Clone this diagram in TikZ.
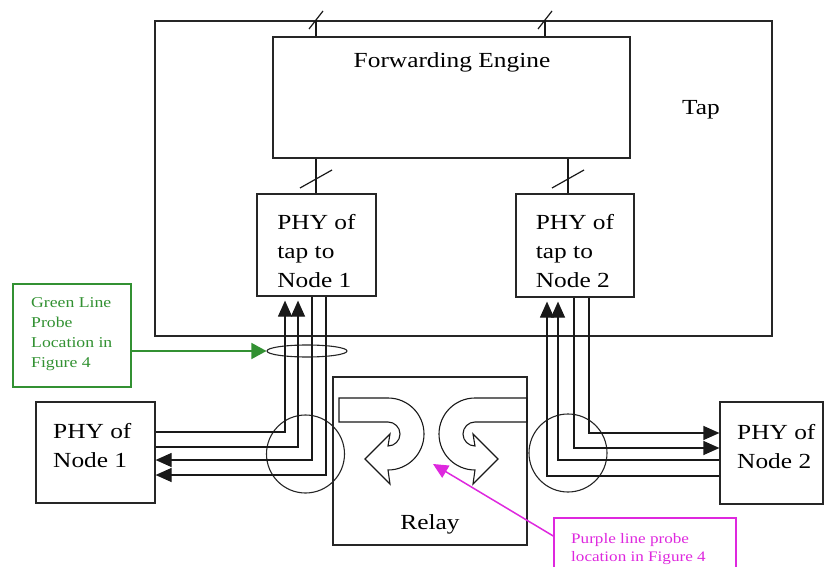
\documentclass[tikz,border=0pt]{standalone}
\usepackage{fontspec}
\setmainfont[FakeStretch=1.18]{Liberation Serif}
\usetikzlibrary{arrows.meta,shapes.geometric,positioning}
\definecolor{probegreen}{RGB}{50,145,50}
\definecolor{probepink}{RGB}{222,40,222}

\begin{document}
\begin{tikzpicture}[x=1pt, y=-1pt, >={Triangle[length=16pt,width=14pt]},
  every node/.style={font=\fontsize{21.5}{29}\selectfont},
  box/.style={draw=black!85, line width=1.2pt, inner sep=0pt},
  txt/.style={align=left, inner sep=0pt},
  wire/.style={draw=black!90, line width=1.2pt},
  ring/.style={draw=black!85, line width=1.1pt, inner sep=0pt},
  greenbox/.style={draw=probegreen, line width=1.5pt, inner sep=0pt},
  greentxt/.style={txt, text=probegreen, font=\fontsize{15}{20}\selectfont},
  pinkbox/.style={draw=probepink, line width=1.5pt, inner sep=0pt},
  pinktxt/.style={txt, text=probepink, font=\fontsize{14.5}{18}\selectfont}]
  \useasboundingbox (0,0) rectangle (825,567);

  % tap and its parts
  \node[box, minimum width=617pt, minimum height=315pt] (tap) at (463.5,178.5) {};
  \node (taplbl) at (701,110) {Tap};
  \node[box, minimum width=357pt, minimum height=121pt] (fwd) at (451.5,97.5) {};
  \node (fwdlbl) at (452,62) {Forwarding Engine};
  \node[box, minimum width=119pt, minimum height=102pt] (phyA) at (316.5,245) {};
  \node[txt] (phyAlbl) at (316.5,251) {PHY of\\tap to\\Node 1};
  \node[box, minimum width=118pt, minimum height=103pt] (phyB) at (575,245.5) {};
  \node[txt] (phyBlbl) at (575,251) {PHY of\\tap to\\Node 2};

  % end nodes and relay
  \node[box, minimum width=119pt, minimum height=101pt] (node1) at (95.5,452.5) {};
  \node[txt, anchor=west] (node1lbl) at (53,446) {PHY of\\Node 1};
  \node[box, minimum width=103pt, minimum height=102pt] (node2) at (771.5,453) {};
  \node[txt, anchor=west] (node2lbl) at (737,447) {PHY of\\Node 2};
  \node[box, minimum width=194pt, minimum height=168pt] (relay) at (430,461) {};
  \node (relaylbl) at (430,524) {Relay};

  \node[ring, circle, minimum size=78pt] (joinA) at (305.5,454) {};
  \node[ring, circle, minimum size=78pt] (joinB) at (568,453) {};
  \node[ring, ellipse, minimum width=80pt, minimum height=12pt] (probeA) at (307,351) {};

  % links with slash marks
  \foreach \x in {316,545} {
    \draw[wire] (fwd.north -| \x,0) -- (tap.north -| \x,0);
    \draw[wire] (\x-7,29) -- (\x+7,11);
  }
  \foreach \x/\b in {316/phyA,568/phyB} {
    \draw[wire] (fwd.south -| \x,0) -- (\b.north -| \x,0);
    \draw[wire] (\x-16,188) -- (\x+16,170);
  }

  % node 1 side
  \draw[wire, ->, shorten >=4pt] (node1.east |- 0,432) -| (phyA.south -| 285,0);
  \draw[wire, ->, shorten >=4pt] (node1.east |- 0,447) -| (phyA.south -| 298,0);
  \draw[wire, ->] (phyA.south -| 312,0) |- (node1.east |- 0,460);
  \draw[wire, ->] (phyA.south -| 326,0) |- (node1.east |- 0,475);

  % node 2 side
  \draw[wire, ->] (phyB.south -| 589,0) |- (node2.west |- 0,433);
  \draw[wire, ->] (phyB.south -| 574,0) |- (node2.west |- 0,448);
  \draw[wire, ->, shorten >=4pt] (node2.west |- 0,460) -| (phyB.south -| 558,0);
  \draw[wire, ->, shorten >=4pt] (node2.west |- 0,476) -| (phyB.south -| 547,0);

  % u-turn arrows in the relay
  \draw[wire, line width=1.1pt] (339,398) -- (388,398) arc[start angle=90, end angle=-90, radius=36pt]
    -- (390,484) -- (365,459) -- (390,434) -- (388,446) arc[start angle=-90, end angle=90, radius=12pt]
    -- (339,422) -- cycle;
  \draw[wire, line width=1.1pt] (527,398) -- (475,398) arc[start angle=90, end angle=270, radius=36pt]
    -- (473,484) -- (498,459) -- (473,434) -- (475,446) arc[start angle=270, end angle=90, radius=12pt]
    -- (527,422) -- cycle;

  % probe notes
  \node[greenbox, minimum width=118pt, minimum height=103pt] (greennote) at (72,335.5) {};
  \node[greentxt, anchor=west] (greenlbl) at (31,334) {Green Line\\Probe\\Location in\\Figure 4};
  \draw[probegreen, line width=1.5pt, -{Triangle[length=15pt,width=16pt]}] (greennote.east |- probeA) -- (probeA.west);

  \node[pinkbox, minimum width=182pt, minimum height=62pt] (pinknote) at (645,549) {};
  \node[pinktxt, anchor=west] (pinklbl) at (571,549) {Purple line probe\\location in Figure 4};
  \coordinate (relaymid) at (433,464);
  \draw[probepink, line width=1.5pt, -{Triangle[length=15pt,width=14pt]}] (pinknote.west |- 0,536) -- (relaymid);
\end{tikzpicture}
\end{document}
